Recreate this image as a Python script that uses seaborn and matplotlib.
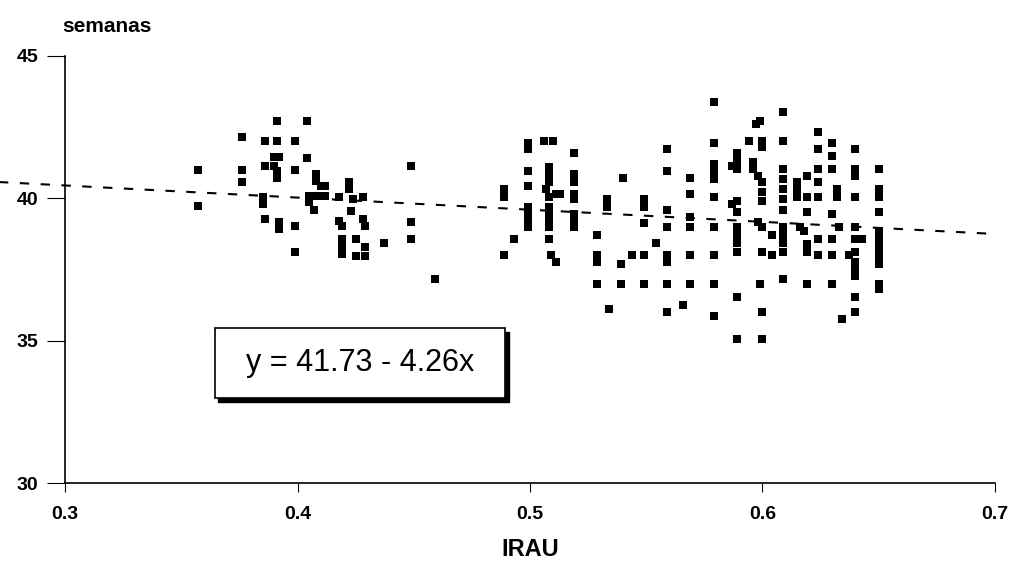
import matplotlib
matplotlib.use("Agg")
import matplotlib.pyplot as plt
import matplotlib.patches as mpatches
import numpy as np
import pandas as pd
import seaborn as sns

# ---- data ----
irau = [
    # group around 0.36-0.46
    0.357, 0.357, 0.376, 0.376, 0.376, 0.391, 0.404, 0.386, 0.391, 0.399,
    0.390, 0.392, 0.386, 0.390, 0.391, 0.391, 0.399, 0.404, 0.408, 0.408,
    0.410, 0.412, 0.405, 0.407, 0.410, 0.412, 0.405, 0.407, 0.418, 0.422,
    0.422, 0.424, 0.428, 0.385, 0.385, 0.386, 0.392, 0.392, 0.399, 0.418,
    0.419, 0.423, 0.428, 0.429, 0.419, 0.419, 0.419, 0.425, 0.425, 0.429,
    0.429, 0.437, 0.449, 0.449, 0.449, 0.399, 0.459,
    # group around 0.49-0.52
    0.499, 0.499, 0.506, 0.510, 0.519, 0.499, 0.508, 0.508, 0.508, 0.519,
    0.519, 0.489, 0.489, 0.499, 0.507, 0.508, 0.511, 0.513, 0.519, 0.519,
    0.499, 0.499, 0.499, 0.499, 0.508, 0.508, 0.508, 0.508, 0.519, 0.519,
    0.519, 0.493, 0.508, 0.489, 0.509, 0.511,
    # group around 0.53-0.58
    0.579, 0.579, 0.559, 0.559, 0.540, 0.569, 0.533, 0.533, 0.549, 0.549,
    0.569, 0.579, 0.579, 0.579, 0.579, 0.559, 0.559, 0.549, 0.569, 0.569,
    0.579, 0.529, 0.554, 0.529, 0.529, 0.539, 0.544, 0.549, 0.559, 0.559,
    0.569, 0.579, 0.529, 0.539, 0.549, 0.559, 0.569, 0.579, 0.534, 0.559,
    0.566, 0.579,
    # group around 0.59-0.65
    0.609, 0.599, 0.597, 0.594, 0.600, 0.600, 0.609, 0.624, 0.630, 0.624,
    0.630, 0.640, 0.589, 0.589, 0.587, 0.589, 0.596, 0.596, 0.598, 0.600,
    0.600, 0.600, 0.609, 0.609, 0.609, 0.609, 0.609, 0.615, 0.615, 0.615,
    0.619, 0.619, 0.624, 0.624, 0.624, 0.630, 0.632, 0.632, 0.640, 0.640,
    0.640, 0.650, 0.650, 0.650, 0.650, 0.589, 0.587, 0.589, 0.589, 0.589,
    0.589, 0.589, 0.598, 0.600, 0.604, 0.600, 0.604, 0.609, 0.609, 0.609,
    0.609, 0.616, 0.618, 0.619, 0.619, 0.619, 0.624, 0.624, 0.630, 0.630,
    0.630, 0.633, 0.640, 0.640, 0.643, 0.640, 0.640, 0.640, 0.640, 0.637,
    0.650, 0.650, 0.650, 0.650, 0.650, 0.650, 0.650, 0.650, 0.599, 0.609,
    0.619, 0.630, 0.640, 0.640, 0.634, 0.589, 0.600, 0.589, 0.600,
]
semanas = [
    40.98, 39.72, 42.14, 40.98, 40.56, 42.70, 42.70, 42.00, 42.00, 42.00,
    41.44, 41.44, 41.12, 41.12, 40.95, 40.70, 40.98, 41.40, 40.84, 40.60,
    40.42, 40.42, 40.07, 40.07, 40.07, 40.07, 39.86, 39.58, 40.04, 40.56,
    40.32, 39.96, 40.04, 40.04, 39.79, 39.26, 39.16, 38.91, 39.02, 39.19,
    39.02, 39.54, 39.26, 39.02, 38.56, 38.32, 38.04, 38.56, 37.96, 38.28,
    37.96, 38.42, 41.12, 39.16, 38.56, 38.11, 37.16,
    41.96, 41.72, 42.00, 42.00, 41.61, 40.97, 41.09, 40.84, 40.58, 40.84,
    40.58, 40.32, 40.05, 40.42, 40.32, 40.05, 40.14, 40.14, 40.14, 39.96,
    39.70, 39.53, 39.26, 39.00, 39.70, 39.53, 39.26, 39.00, 39.44, 39.17,
    39.00, 38.56, 38.56, 38.00, 38.00, 37.77,
    43.40, 41.96, 41.72, 40.97, 40.70, 40.70, 39.96, 39.70, 39.96, 39.70,
    40.14, 41.19, 40.91, 40.67, 40.05, 39.60, 39.00, 39.12, 39.33, 39.00,
    39.00, 38.72, 38.43, 38.00, 37.77, 37.68, 38.00, 38.00, 38.00, 37.77,
    38.00, 38.00, 37.00, 37.00, 37.00, 37.00, 37.00, 37.00, 36.10, 36.00,
    36.25, 35.86,
    43.05, 42.70, 42.60, 42.00, 42.00, 41.82, 42.00, 42.32, 41.96, 41.72,
    41.47, 41.72, 41.61, 41.30, 41.12, 41.02, 41.26, 41.02, 40.77, 40.58,
    40.21, 39.89, 41.02, 40.67, 40.32, 39.96, 39.60, 40.58, 40.32, 40.05,
    40.77, 40.05, 41.02, 40.58, 40.05, 41.02, 40.32, 40.05, 41.02, 40.77,
    40.05, 41.02, 40.32, 40.05, 39.53, 39.89, 39.79, 39.53, 39.00, 38.72,
    38.43, 38.12, 39.17, 39.00, 38.72, 38.12, 38.00, 39.00, 38.72, 38.43,
    38.12, 39.00, 38.84, 39.53, 38.39, 38.12, 38.56, 38.00, 39.44, 38.56,
    38.00, 39.00, 39.00, 38.56, 38.56, 38.12, 37.77, 37.51, 37.26, 38.00,
    38.84, 38.65, 38.39, 38.12, 37.93, 37.68, 37.00, 36.81, 37.00, 37.16,
    37.00, 37.00, 36.54, 36.00, 35.75, 36.54, 36.00, 35.05, 35.05,
]
intercept = 41.73
slope = -4.26
line_x = [0.271, 0.70]
x_ticks = [0.3, 0.4, 0.5, 0.6, 0.7]
x_ticklabels = ["0.3", "0.4", "0.5", "0.6", "0.7"]
y_ticks = [30, 35, 40, 45]
y_ticklabels = ["30", "35", "40", "45"]
equation = "y = 41.73 - 4.26x"

df = pd.DataFrame({"IRAU": irau, "semanas": semanas})

sns.set_style("ticks")
plt.rcParams["font.family"] = ["Liberation Sans", "DejaVu Sans"]
plt.rcParams["text.color"] = "black"
plt.rcParams["xtick.color"] = "black"
plt.rcParams["ytick.color"] = "black"
plt.rcParams["axes.labelcolor"] = "black"

fig = plt.figure(figsize=(10.12, 5.64), dpi=100)
ax = fig.add_axes([65 / 1012, 1 - 483 / 564, 930 / 1012, 427 / 564])

sns.scatterplot(data=df, x="IRAU", y="semanas", ax=ax, marker="s", s=26,
                color="black", linewidth=0, legend=False, zorder=3)

lx = np.array(line_x)
ax.plot(lx, intercept + slope * lx, color="black", lw=1.5,
        linestyle=(0, (4.5, 5.5)), clip_on=False, zorder=2)

ax.set_xlim(0.3, 0.7)
ax.set_ylim(30, 45)
ax.set_xticks(x_ticks)
ax.set_xticklabels(x_ticklabels, fontsize=14, fontweight="bold")
ax.set_yticks(y_ticks)
ax.set_yticklabels(y_ticklabels, fontsize=14, fontweight="bold")
ax.tick_params(axis="x", direction="out", length=6.5, width=0.8, pad=10,
               colors="black")
ax.tick_params(axis="y", direction="out", length=13, width=0.8, pad=6,
               colors="black")
for s in ["top", "right"]:
    ax.spines[s].set_visible(False)
for s in ["left", "bottom"]:
    ax.spines[s].set_linewidth(1.2)
    ax.spines[s].set_color("black")

ax.set_xlabel("IRAU", fontsize=17, fontweight="bold", labelpad=11,
              color="black")
ax.set_ylabel("")
fig.text(62 / 1012, 1 - 27 / 564, "semanas", fontsize=15, fontweight="bold",
         ha="left", va="center", color="black")

# equation box with drop shadow
bx0, by0, bw, bh = 0.161, 0.199, 0.312, 0.164
shadow = mpatches.Rectangle((bx0 + 0.004, by0 - 0.009), bw, bh,
                            transform=ax.transAxes, facecolor="black",
                            edgecolor="black", zorder=4)
box = mpatches.Rectangle((bx0, by0), bw, bh, transform=ax.transAxes,
                         facecolor="white", edgecolor="black", lw=1.2,
                         zorder=5)
ax.add_patch(shadow)
ax.add_patch(box)
ax.text(bx0 + bw / 2, by0 + bh / 2, equation, transform=ax.transAxes,
        ha="center", va="center", fontsize=22, zorder=6, color="black")

fig.savefig("out.png", dpi=100)
